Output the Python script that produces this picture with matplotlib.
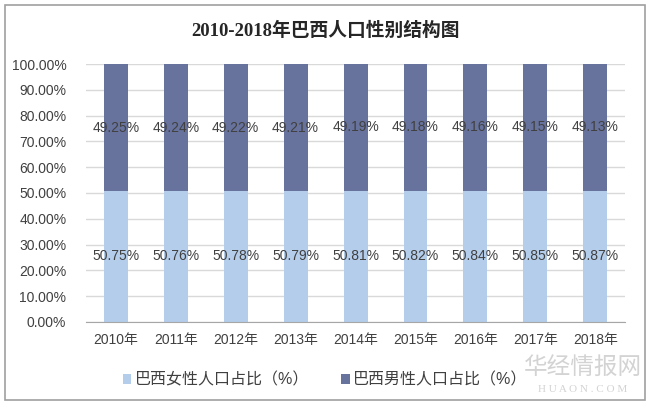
import matplotlib.pyplot as plt
from matplotlib.patches import Rectangle

plt.rcParams['font.family'] = ['Liberation Sans', 'Noto Sans CJK SC']

# данные
years = ['2010年', '2011年', '2012年', '2013年', '2014年', '2015年', '2016年', '2017年', '2018年']
female = [50.75, 50.76, 50.78, 50.79, 50.81, 50.82, 50.84, 50.85, 50.87]
male = [49.25, 49.24, 49.22, 49.21, 49.19, 49.18, 49.16, 49.15, 49.13]

c_female = '#b4cdeb'
c_male = '#67739d'

fig = plt.figure(figsize=(6.5, 4.08), dpi=100, facecolor='white')
# рамка вокруг рисунка
fig.patches.append(Rectangle((0.007, 0.02), 0.985, 0.968, transform=fig.transFigure,
                             fill=False, edgecolor='#a0a0a0', lw=1.2))

ax = fig.add_axes([0.132, 0.211, 0.83, 0.632])
x = range(len(years))
b1 = ax.bar(x, [v / 100 for v in female], width=0.4, color=c_female, label='巴西女性人口占比（%）', zorder=2)
b2 = ax.bar(x, [v / 100 for v in male], width=0.4, bottom=[v / 100 for v in female], color=c_male,
            label='巴西男性人口占比（%）', zorder=2)

for i in x:
    ax.text(i, female[i] / 200, f'{female[i]:.2f}%', ha='center', va='center', fontsize=10, color='#404040', zorder=3)
    ax.text(i, (female[i] + male[i] / 2) / 100, f'{male[i]:.2f}%', ha='center', va='center', fontsize=10,
            color='#404040', zorder=3)

ax.set_xlim(-0.5, len(years) - 0.5)
ax.set_ylim(0, 1)
ax.set_yticks([i / 10 for i in range(11)])
ax.set_yticklabels([f'{i * 10:.2f}%' for i in range(11)], fontsize=10, color='#404040')
ax.set_xticks(list(x))
ax.set_xticklabels(years, fontsize=10, color='#404040')
ax.tick_params(length=0, pad=8)
ax.tick_params(axis='y', pad=14)
ax.grid(axis='y', color='#d9d9d9', lw=1, zorder=0)
for s in ['top', 'right', 'left']:
    ax.spines[s].set_visible(False)
ax.spines['bottom'].set_color('#a6a6a6')
ax.spines['bottom'].set_zorder(3)

fig.text(0.5, 0.925, '2010-2018年巴西人口性别结构图', ha='center', va='center', fontsize=13.5, fontweight='bold',
         family=['Liberation Serif', 'Noto Sans CJK SC'], color='#262626')

ax.legend(handles=[b1, b2], loc='center', bbox_to_anchor=(0.5, 0.069), bbox_transform=fig.transFigure,
          ncol=2, frameon=False, fontsize=11.5, handlelength=0.55, handleheight=0.55, handletextpad=0.2,
          columnspacing=2.0, labelcolor='#404040')

# водяной знак
fig.text(0.897, 0.1, '华经情报网', ha='center', va='center', fontsize=17, color='#c8c8c8', alpha=0.8,
         family=['Noto Sans CJK SC'])
fig.text(0.897, 0.045, 'H U A O N . C O M', ha='center', va='center', fontsize=8, color='#c8c8c8', alpha=0.8,
         family=['Liberation Serif'])

fig.savefig('out.png', dpi=100)
